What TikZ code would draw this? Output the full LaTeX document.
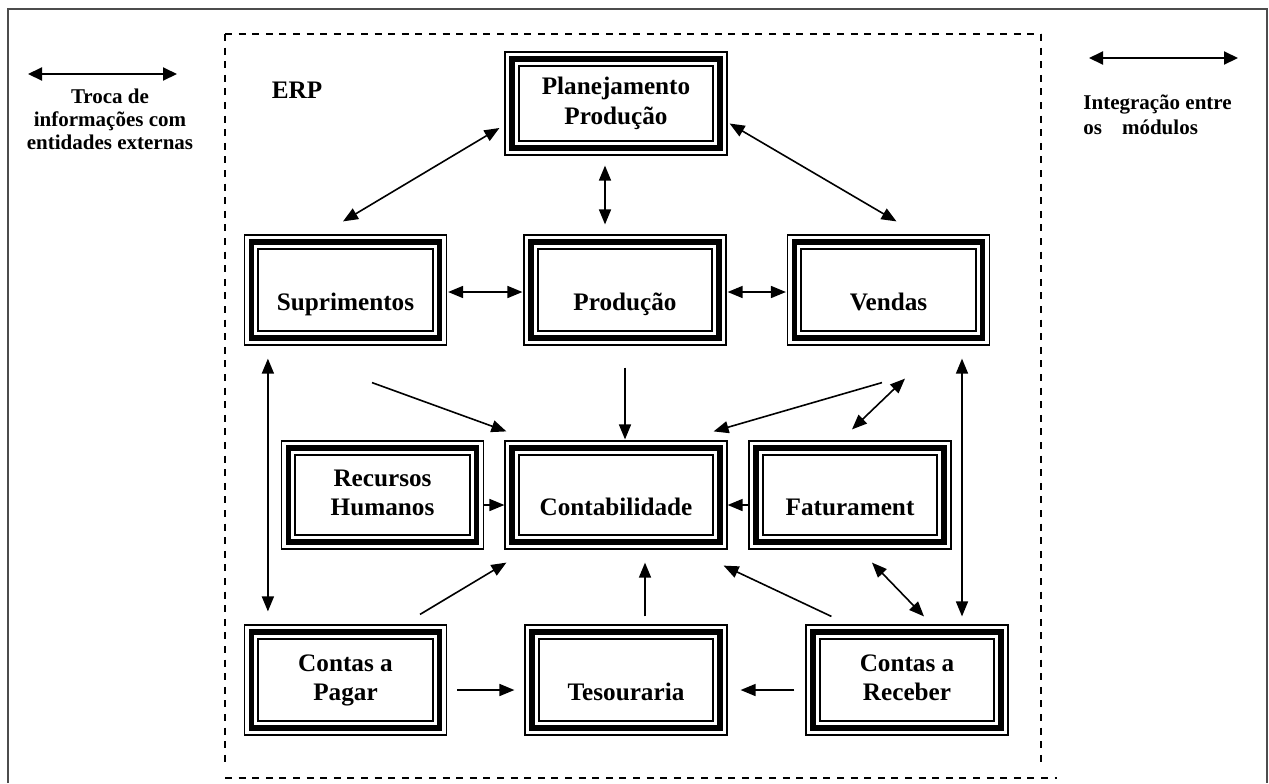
\documentclass[tikz,border=0pt]{standalone}
\usepackage{fontspec}
\setmainfont{Liberation Serif}
\usetikzlibrary{arrows.meta}

\newcommand\modfont{\fontsize{12.6}{14.8}\selectfont\bfseries}
\newcommand\legfont{\fontsize{10.5}{11.6}\selectfont\bfseries}
\newcommand\legfontb{\fontsize{10.5}{12.4}\selectfont\bfseries}

% inner bands of a module frame: thick band and thin inner line
\newcommand\bands[1]{%
  \draw[line width=2.75pt] ([shift={(7.5,7.5)}]#1.north west) rectangle ([shift={(-7.5,-7.5)}]#1.south east);
  \draw[line width=1pt] ([shift={(14.5,14.5)}]#1.north west) rectangle ([shift={(-14.5,-14.5)}]#1.south east);}

\tikzset{
  module/.style={draw, line width=0.6pt, inner sep=0pt, align=center, font=\modfont},
  wide/.style={minimum width=111pt, minimum height=#1},
  narrow/.style={minimum width=101pt, minimum height=#1},
  tip/.style={Triangle[length=7.5pt,width=6pt]},
  conn/.style={line width=0.8pt, -{Triangle[length=7.5pt,width=6pt]}},
  bconn/.style={line width=0.8pt, {Triangle[length=7.5pt,width=6pt]}-{Triangle[length=7.5pt,width=6pt]}},
  legarrow/.style={line width=1pt, {Triangle[length=7pt,width=6.5pt]}-{Triangle[length=7pt,width=6.5pt]}},
  frame/.style={draw=black!70, line width=1pt},
  erpframe/.style={line width=1pt, dash pattern=on 3.5pt off 3.3pt},
}

\begin{document}
\begin{tikzpicture}[x=0.5pt, y=-0.5pt]
\useasboundingbox (0,0) rectangle (1269,783);

% page frame
\draw[frame] (8,783) -- (8,9) -- (1267,9) -- (1267,783);

% ERP boundary
\draw[erpframe] (225,34) -- (1041,34);
\draw[erpframe] (225,34) -- (225,763);
\draw[erpframe] (1041,34) -- (1041,763);
\draw[erpframe] (225,778) -- (1057,778);

\node[font=\modfont] (erp) at (297,90) {ERP};

% legends
\coordinate (la) at (28,74);
\coordinate (lb) at (177,74);
\draw[legarrow] (la) -- (lb);
\node[font=\legfont, align=center] (legl) at (110,122)
  {\strut Troca de\\\strut informações com\\\strut entidades externas};

\coordinate (ra) at (1089,58);
\coordinate (rb) at (1238,58);
\draw[legarrow] (ra) -- (rb);
\node[font=\legfontb, align=left, anchor=west, inner sep=0pt] (legr) at (1083,117)
  {\strut Integração entre\\\strut os\hspace{10pt}módulos};

% modules
\node[module, wide=51.5pt]  (plan) at (616,103.5) {\strut Planejamento\\\strut Produção};
\node[module, narrow=55pt]  (sup)  at (345.5,290) {\strut\\\strut Suprimentos};
\node[module, narrow=55pt]  (prod) at (625,290)   {\strut\\\strut Produção};
\node[module, narrow=55pt]  (vend) at (888.5,290) {\strut\\\strut Vendas};
\node[module, narrow=54pt]  (rh)   at (382.5,495) {\strut Recursos\\\strut Humanos};
\node[module, wide=54pt]    (cont) at (616,495)   {\strut\\\strut Contabilidade};
\node[module, narrow=54pt]  (fat)  at (850,495)   {\strut\\\strut Faturament};
\node[module, narrow=55pt]  (pag)  at (345.5,680) {\strut Contas a\\\strut Pagar};
\node[module, narrow=55pt]  (tes)  at (626,680)   {\strut\\\strut Tesouraria};
\node[module, narrow=55pt]  (rec)  at (907,680)   {\strut Contas a\\\strut Receber};

\foreach \m in {plan,sup,prod,vend,rh,cont,fat,pag,tes,rec}{\bands{\m}}

% connectors between modules
\draw[bconn] ([shift={(-5,24.5)}]plan.west) -- ([shift={(-2.5,-13)}]sup.north);
\draw[bconn] ([shift={(-11,10)}]plan.south) -- ([shift={(-20,-10)}]prod.north);
\draw[bconn] ([shift={(2,20)}]plan.east) -- ([shift={(8,-13)}]vend.north);
\draw[bconn] ([shift={(1,2)}]sup.east) -- ([shift={(-1,2)}]prod.west);
\draw[bconn] ([shift={(1,2)}]prod.east) -- ([shift={(-1,2)}]vend.west);

\draw[conn] ([shift={(26.5,37)}]sup.south) -- ([shift={(2,-9)}]cont.north west);
\draw[conn] ([shift={(0,22)}]prod.south) -- ([shift={(9,-1)}]cont.north);
\draw[conn] ([shift={(-6.5,37)}]vend.south) -- ([shift={(-14,-9)}]cont.north east);
\draw[bconn] ([shift={(16.5,33)}]vend.south) -- ([shift={(2,-11)}]fat.north);

\draw[bconn] ([shift={(24,13)}]sup.south west) -- ([shift={(24,-13)}]pag.north west);
\draw[bconn] ([shift={(73.5,13)}]vend.south) -- ([shift={(55,-8)}]rec.north);

\draw[conn] ([shift={(0,10)}]rh.east) -- ([shift={(0,10)}]cont.west);
\draw[conn] ([shift={(0,10)}]fat.west) -- ([shift={(0,10)}]cont.east);
\draw[bconn] ([shift={(22,13)}]fat.south) -- ([shift={(17,-8)}]rec.north);

\draw[conn] ([shift={(74.5,-10)}]pag.north) -- ([shift={(2,13)}]cont.south west);
\draw[conn] ([shift={(19,-8)}]tes.north) -- ([shift={(29,13)}]cont.south);
\draw[conn] ([shift={(26,-8)}]rec.north west) -- ([shift={(-4,16)}]cont.south east);

\draw[conn] ([shift={(10,10)}]pag.east) -- ([shift={(-10,10)}]tes.west);
\draw[conn] ([shift={(-11,10)}]rec.west) -- ([shift={(13,10)}]tes.east);
\end{tikzpicture}
\end{document}
